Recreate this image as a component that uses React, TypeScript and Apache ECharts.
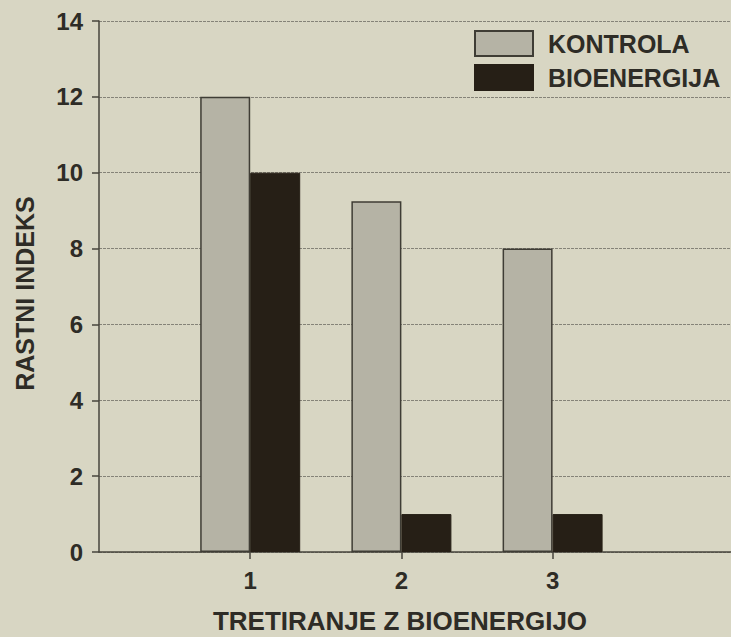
import React, { useEffect, useRef } from "react";
import * as echarts from "echarts";

const treatments = [1, 2, 3];
const kontrola = [12, 9.25, 8];
const bioenergija = [10, 1, 1];
const seriesNames = ["KONTROLA", "BIOENERGIJA"];
const yTicks = { min: 0, max: 14, interval: 2 };

const FONT = "'Liberation Sans', Arial, sans-serif";
const TEXT = "#2e2c26";
const LINE = "#47453c";

export default function App() {
  const ref = useRef<HTMLDivElement>(null);
  useEffect(() => {
    if (!ref.current) return;
    const chart = echarts.init(ref.current, null, { renderer: "svg" });
    chart.setOption({
      animation: false,
      backgroundColor: "#d8d6c3",
      textStyle: { fontFamily: FONT, color: TEXT },
      grid: { left: 99, top: 21, right: 0, bottom: 85, containLabel: false },
      legend: {
        orient: "vertical",
        left: 474,
        top: 30,
        padding: 0,
        itemWidth: 58,
        itemHeight: 25,
        itemGap: 7,
        icon: "rect",
        textStyle: {
          fontFamily: FONT,
          fontSize: 25,
          lineHeight: 25,
          fontWeight: "bold",
          color: TEXT,
          padding: [0, 0, 0, 10],
        },
        data: seriesNames,
      },
      xAxis: {
        type: "value",
        min: 0,
        max: 4.18,
        interval: 1,
        axisLine: { show: true, lineStyle: { color: LINE, width: 1.5 } },
        axisTick: { show: true, length: 7, customValues: treatments, lineStyle: { color: LINE, width: 1.5 } },
        axisLabel: {
          customValues: treatments,
          margin: 16,
          fontFamily: FONT,
          fontSize: 24,
          fontWeight: "bold",
          color: TEXT,
        },
        splitLine: { show: false },
      },
      yAxis: {
        type: "value",
        min: yTicks.min,
        max: yTicks.max,
        interval: yTicks.interval,
        name: "RASTNI INDEKS",
        nameLocation: "middle",
        nameGap: 62,
        nameTextStyle: {
          fontFamily: FONT,
          fontSize: 25,
          fontWeight: "bold",
          color: TEXT,
          padding: [0, 14, 0, 0],
        },
        axisLine: { show: true, lineStyle: { color: LINE, width: 1.5 } },
        axisTick: { show: true, length: 7, lineStyle: { color: LINE, width: 1.5 } },
        axisLabel: { margin: 16, fontFamily: FONT, fontSize: 24, fontWeight: "bold", color: TEXT },
        splitLine: { show: true, lineStyle: { color: "#858378", width: 1, type: [3, 1] } },
      },
      graphic: [
        {
          type: "text",
          x: 400,
          y: 621,
          style: {
            text: "TRETIRANJE Z BIOENERGIJO",
            fontFamily: FONT,
            fontSize: 26,
            fontWeight: "bold",
            fill: TEXT,
            align: "center",
            verticalAlign: "middle",
          },
        },
      ],
      series: [
        {
          name: seriesNames[0],
          type: "bar",
          barWidth: 50,
          barGap: "0%",
          data: treatments.map((t, i) => [t, kontrola[i]]),
          itemStyle: { color: "#b5b3a5", borderColor: "#3f3d35", borderWidth: 1.5 },
        },
        {
          name: seriesNames[1],
          type: "bar",
          barWidth: 50,
          barGap: "0%",
          data: treatments.map((t, i) => [t, bioenergija[i]]),
          itemStyle: { color: "#261f16", borderColor: "#261f16", borderWidth: 1 },
        },
      ],
    });
    return () => chart.dispose();
  }, []);
  return (
    <div
      ref={ref}
      style={{ position: "absolute", left: 0, top: 0, width: 731, height: 637 }}
    />
  );
}
